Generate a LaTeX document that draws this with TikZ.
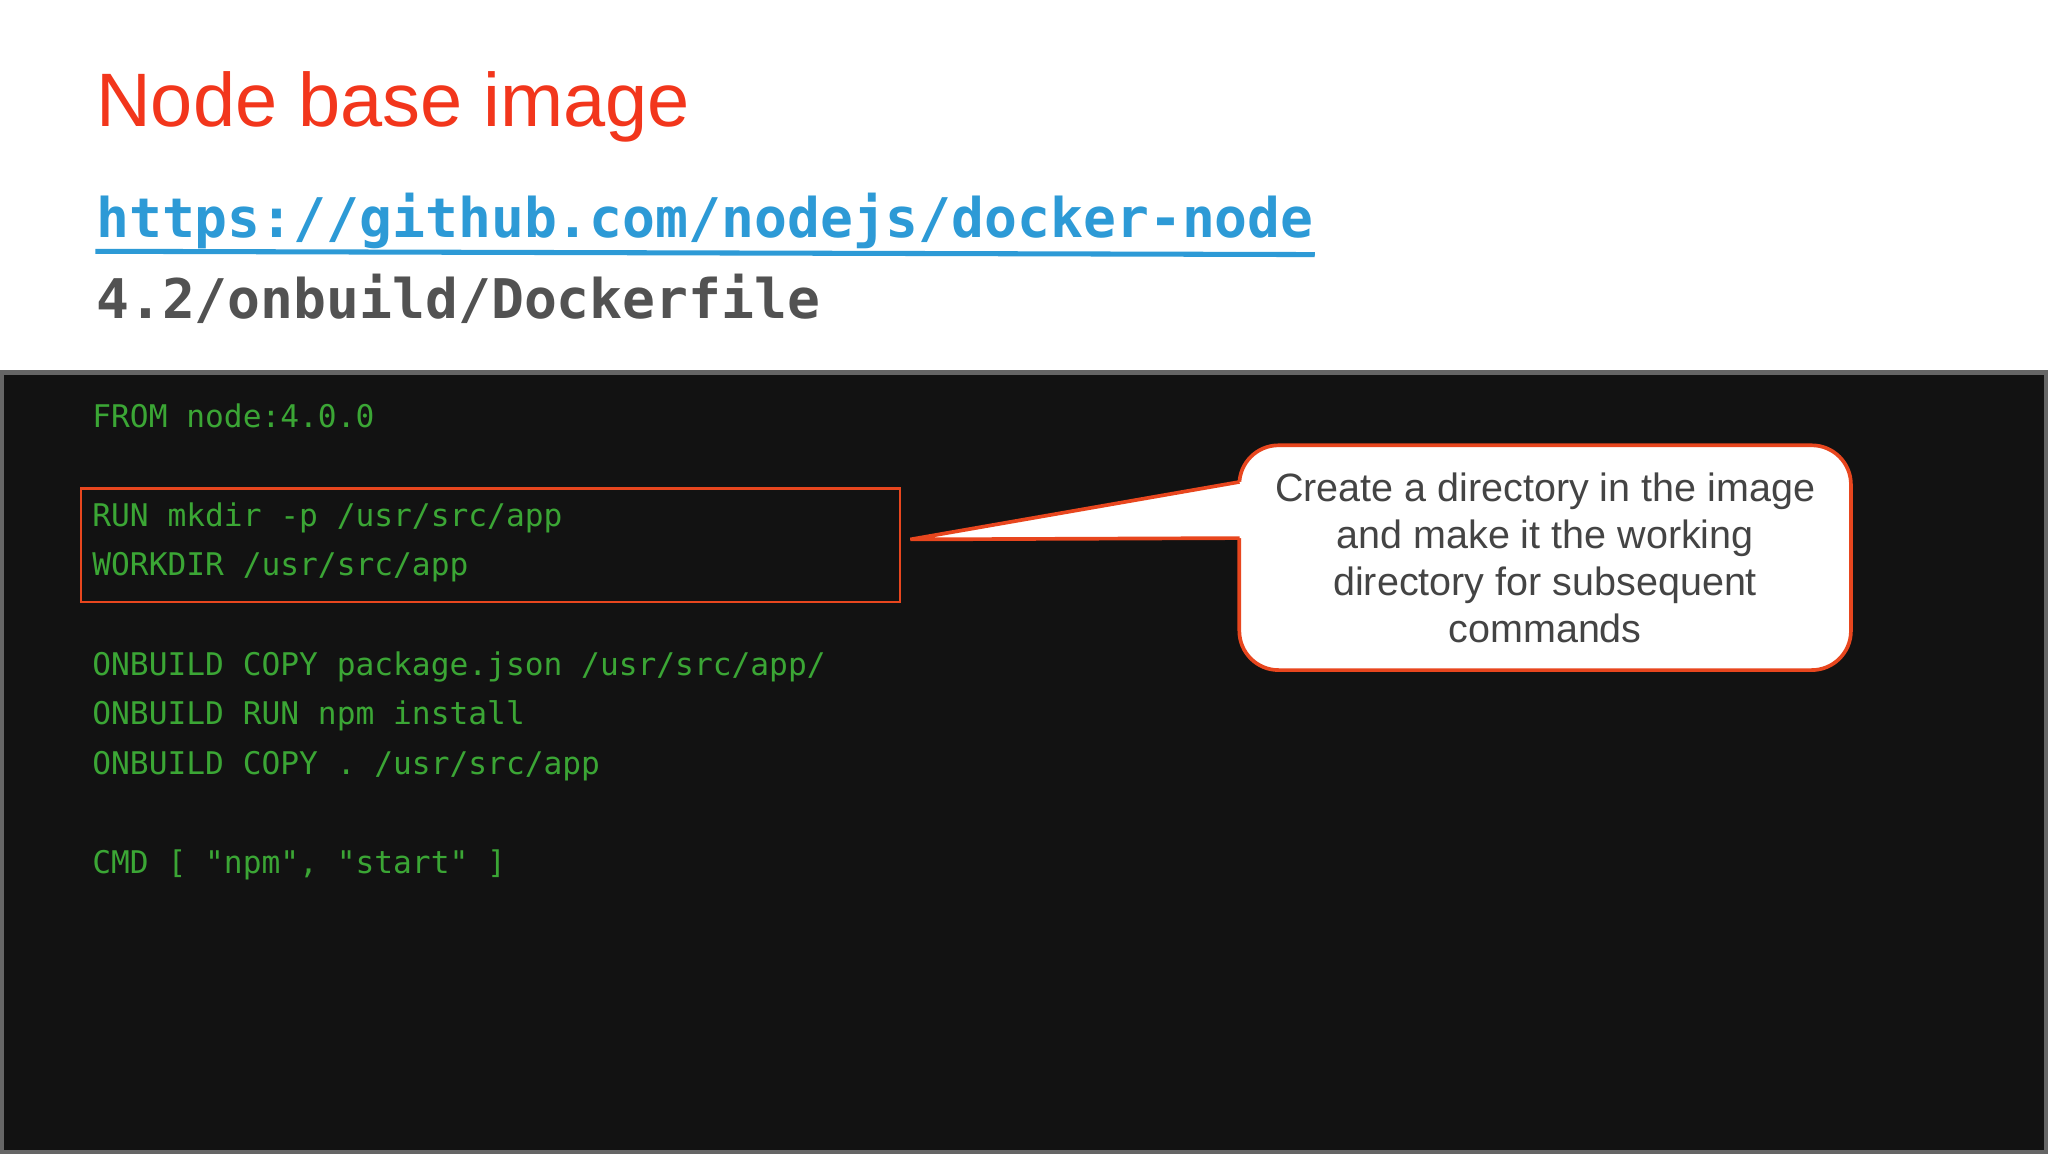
\documentclass[tikz,border=0pt]{standalone}
\usepackage{fontspec}
\setmainfont{Liberation Sans}
\setmonofont{DejaVu Sans Mono}
\usetikzlibrary{positioning}
\definecolor{titlered}{HTML}{F2361C}
\definecolor{urlblue}{HTML}{2D9AD6}
\definecolor{codegreen}{HTML}{3BA635}
\definecolor{boxred}{HTML}{E8461E}
\definecolor{panel}{HTML}{121212}
\definecolor{textgray}{HTML}{444444}
\begin{document}
\begin{tikzpicture}[x=0.01cm, y=-0.01cm,
    code/.style={anchor=base west, inner sep=0pt, text=codegreen, font=\ttfamily\fontsize{6.8}{8}\selectfont},
    bubble/.style={draw=boxred, line width=0.8pt, fill=white, rounded corners=0.3cm}]
  \useasboundingbox (0,0) rectangle (1568,883);
  \fill[white] (0,0) rectangle (1568,883);

  \node[anchor=base west, inner sep=0pt, text=titlered, font=\fontsize{16.5}{20}\selectfont] (title) at (73,97) {Node base image};
  \node[anchor=base west, inner sep=0pt, text=urlblue, font=\ttfamily\bfseries\fontsize{11.9}{14}\selectfont] (url) at (73,182) {https://github.com/nodejs/docker-node};
  \draw[urlblue, line width=1.1pt] (url.south west) ++(0,1) -- ([yshift=-1pt]url.south east);
  \node[anchor=base west, inner sep=0pt, text=black!68, font=\ttfamily\bfseries\fontsize{11.9}{14}\selectfont] (path) at (73,244) {4.2/onbuild/Dockerfile};

  % terminal panel
  \draw[fill=panel, draw=black!60, line width=1pt] (1,285) rectangle (1567,882);

  \node[code] (from) at (70,327) {FROM node:4.0.0};
  \node[code] (run) at (70,403) {RUN mkdir -p /usr/src/app};
  \node[code] (workdir) at (70,441) {WORKDIR /usr/src/app};
  \node[code] (copyjson) at (70,517) {ONBUILD COPY package.json /usr/src/app/};
  \node[code] (npm) at (70,555) {ONBUILD RUN npm install};
  \node[code] (copyall) at (70,593) {ONBUILD COPY . /usr/src/app};
  \node[code] (cmd) at (70,669) {CMD [ "npm", "start" ]};

  \draw[boxred, line width=0.6pt] (62,374) rectangle (689,461);

  % callout
  \node[bubble, minimum width=4.68cm, minimum height=1.72cm] (callout) at (1183,427) {};
  \coordinate (tip) at (697,413);
  \fill[white] (tip) -- (949,369) -- (953,369) -- (953,412) -- (949,412) -- cycle;
  \draw[boxred, line width=0.8pt] (949,369) -- (tip) -- (949,412);
  \node[align=center, text=textgray, font=\fontsize{8.6}{10.2}\selectfont] (note) at (callout.center) {Create a directory in the image\\and make it the working\\directory for subsequent\\commands};
\end{tikzpicture}
\end{document}
